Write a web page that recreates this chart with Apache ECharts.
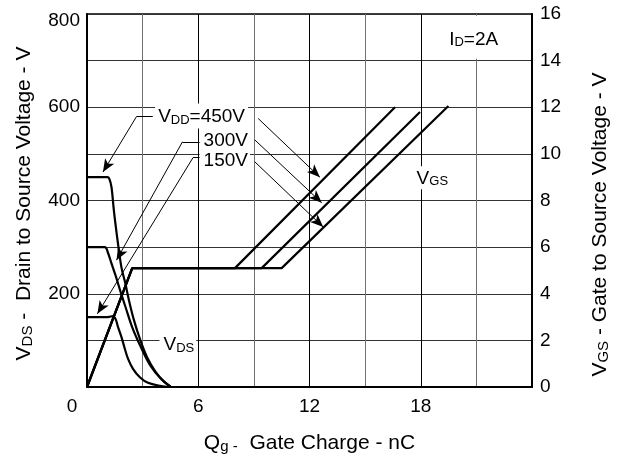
<!DOCTYPE html>
<html>
<head>
<meta charset="utf-8">
<script src="https://cdn.jsdelivr.net/npm/echarts@6/dist/echarts.min.js"></script>
<style>
  html, body { margin: 0; padding: 0; background: #fff; }
  #main { width: 623px; height: 457px; }
</style>
</head>
<body>
<div id="main"></div>
<script>
// V_DS curves (Qg nC, V)
const vds450 = [[0, 450], [1.1, 450], [1.2, 447], [1.32, 429], [1.44, 382], [1.55, 345], [1.67, 308], [1.86, 256], [2.07, 222], [2.25, 188], [2.52, 145], [2.88, 100], [3.24, 64], [3.69, 33], [4.14, 12], [4.5, 1]]
const vds300 = [[0, 300], [0.96, 300], [1.13, 288], [1.32, 265], [1.55, 238], [1.82, 203], [2.09, 170], [2.44, 128], [2.9, 86], [3.43, 45], [4.0, 17], [4.5, 1]]
const vds150 = [[0, 150], [1.13, 150], [1.4, 152], [1.55, 145], [1.67, 129], [1.86, 107], [2.04, 82], [2.21, 61], [2.48, 39], [2.85, 21], [3.29, 9], [4.0, 2], [4.4, 0]]
// V_GS curves (Qg nC, V)
const vgs450 = [[0, 0], [2.44, 5.1], [7.98, 5.1], [16.61, 12]]
const vgs300 = [[0, 0], [2.44, 5.1], [9.42, 5.1], [17.96, 11.8]]
const vgs150 = [[0, 0], [2.44, 5.1], [10.5, 5.1], [19.49, 12.05]]

const xTicks = [0, 6, 12, 18]
const leftTicks = [200, 400, 600, 800]
const rightTicks = [0, 2, 4, 6, 8, 10, 12, 14, 16]

// annotation texts, placed in V_DS coordinates
const annoText = ['{v|V}{s|DD}{v|=450V}', '{v|300V}', '{v|150V}', '{v|V}{s|DS}', '{v|V}{s|GS}', '{v|I}{s|D}{v|=2A}']
const annoAt = [[6.18, 581], [7.43, 531], [7.43, 488], [4.9, 92], [18.57, 449], [20.8, 747]]
// leader lines: [from, to, arrow at end?]
const leaders = [
  [[3.55, 580], [2.67, 580], false], [[2.67, 580], [0.86, 461], true],
  [[6.09, 526], [5.15, 526], false], [[5.15, 526], [1.59, 272], true],
  [[6.09, 492], [5.72, 492], false], [[5.72, 492], [0.56, 157], true],
  [[9.23, 576], [12.56, 450], true],
  [[9.05, 530], [12.66, 395], true],
  [[9.05, 483], [12.74, 343], true]
]

const font = 'Liberation Sans, Arial, sans-serif'
const rich = {
  v: { fontSize: 19, fontFamily: font, color: '#000', verticalAlign: 'bottom', lineHeight: 21 },
  s: { fontSize: 13, fontFamily: font, color: '#000', verticalAlign: 'bottom', lineHeight: 19 }
}
const nameRich = {
  v: { fontSize: 21, fontFamily: font, color: '#000', verticalAlign: 'bottom', lineHeight: 24 },
  s: { fontSize: 15, fontFamily: font, color: '#000', verticalAlign: 'bottom', lineHeight: 22 }
}

const chart = echarts.init(document.getElementById('main'), null, { renderer: 'canvas' })

function curve(name, data, axis) {
  return {
    name: name,
    type: 'line',
    yAxisIndex: axis,
    data: data,
    showSymbol: false,
    smooth: axis === 0 ? 0.35 : false,
    lineStyle: { color: '#000', width: 2.2 },
    silent: true,
    z: 3
  }
}

const option = {
  animation: false,
  backgroundColor: '#fff',
  grid: {
    left: 87, right: 91, top: 14, bottom: 70,
    show: true, borderColor: '#000', borderWidth: 1.5,
    outerBoundsMode: 'none'
  },
  xAxis: {
    type: 'value', min: 0, max: 24, interval: 3,
    axisLine: { show: true, lineStyle: { color: '#000', width: 2 } },
    axisTick: { show: false },
    axisLabel: {
      color: '#000', fontSize: 19, fontFamily: font, margin: 10,
      formatter: v => xTicks.includes(v) ? (v === 0 ? '{z|0}' : String(v)) : '',
      rich: { z: { fontSize: 19, fontFamily: font, color: '#000', padding: [0, 30, 0, 0] } }
    },
    splitLine: { show: true, lineStyle: { color: ['#000', '#707070'], width: 1 } },
    name: '{v|Q}{s|g -}{v|  Gate Charge - nC}',
    nameLocation: 'middle', nameGap: 43,
    nameTextStyle: { rich: nameRich }
  },
  yAxis: [
    {
      type: 'value', min: 0, max: 800, interval: 100, position: 'left',
      axisLine: { show: true, lineStyle: { color: '#000', width: 2 } },
      axisTick: { show: false },
      axisLabel: {
        color: '#000', fontSize: 19, fontFamily: font, margin: 7,
        formatter: v => leftTicks.includes(v) ? (v === 800 ? '{t|800}' : String(v)) : '',
        rich: { t: { fontSize: 19, fontFamily: font, color: '#000', padding: [14, 0, 0, 0] } }
      },
      splitLine: { show: true, lineStyle: { color: '#333', width: 1 } },
      name: '{v|V}{s|DS}{v| -  Drain to Source Voltage - V}',
      nameLocation: 'middle', nameGap: 52, nameRotate: 90,
      nameTextStyle: { rich: nameRich, padding: [0, 6, 0, 0] }
    },
    {
      type: 'value', min: 0, max: 16, interval: 2, position: 'right',
      axisLine: { show: true, lineStyle: { color: '#000', width: 2 } },
      axisTick: { show: false },
      axisLabel: {
        color: '#000', fontSize: 19, fontFamily: font, margin: 8,
        formatter: v => rightTicks.includes(v) ? String(v) : ''
      },
      splitLine: { show: false },
      name: '{v|V}{s|GS}{v| - Gate to Source Voltage - V}',
      nameLocation: 'middle', nameGap: 55, nameRotate: 90,
      nameTextStyle: { rich: nameRich, padding: [0, 48, 0, 0] }
    }
  ],
  series: [
    curve('VDS 450V', vds450, 0),
    curve('VDS 300V', vds300, 0),
    curve('VDS 150V', vds150, 0),
    curve('VGS 450V', vgs450, 1),
    curve('VGS 300V', vgs300, 1),
    curve('VGS 150V', vgs150, 1),
    {
      name: 'notes',
      type: 'line',
      yAxisIndex: 0,
      data: [],
      silent: true,
      z: 4,
      markArea: {
        silent: true,
        itemStyle: { color: '#fff' },
        data: [[{ coord: [18.1, 704] }, { coord: [23.9, 796] }]]
      },
      markLine: {
        silent: true,
        animation: false,
        label: { show: false },
        lineStyle: { color: '#000', width: 1, type: 'solid' },
        data: leaders.map(l => [
          { coord: l[0], symbol: 'none' },
          { coord: l[1], symbol: l[2] ? 'arrow' : 'none', symbolSize: [8, 13] }
        ])
      },
      markPoint: {
        silent: true,
        symbol: 'circle',
        symbolSize: 0,
        data: annoAt.map((c, i) => ({
          coord: c,
          label: {
            show: true,
            position: 'inside',
            formatter: annoText[i],
            backgroundColor: i === 5 ? 'transparent' : '#fff',
            padding: i === 0 ? [2, 3, 2, 3] : [1, 2, 1, 4],
            rich: rich
          }
        }))
      }
    }
  ]
}

chart.setOption(option)
</script>
</body>
</html>
